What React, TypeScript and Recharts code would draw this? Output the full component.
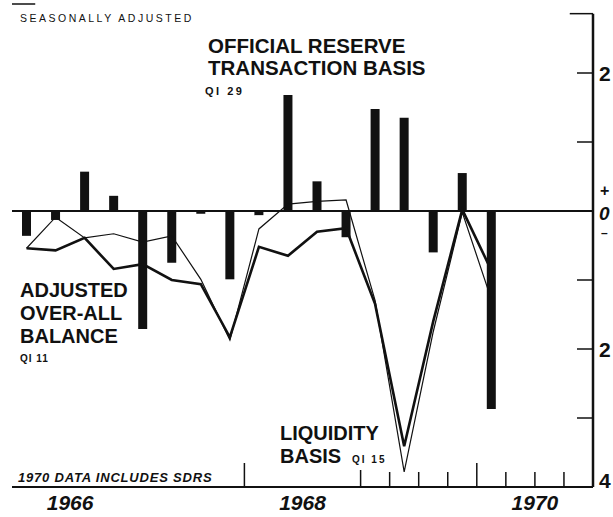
import React from "react";
import { ComposedChart, Bar, Line, XAxis, YAxis, ReferenceLine } from "recharts";

// quarterly, billions of dollars, seasonally adjusted
const quarters = [
  "1966 Q1", "1966 Q2", "1966 Q3", "1966 Q4",
  "1967 Q1", "1967 Q2", "1967 Q3", "1967 Q4",
  "1968 Q1", "1968 Q2", "1968 Q3", "1968 Q4",
  "1969 Q1", "1969 Q2", "1969 Q3", "1969 Q4",
  "1970 Q1",
];
const reserveBasis = [
  -0.36, -0.13, 0.57, 0.22, -1.71, -0.75, -0.04, -0.99,
  -0.06, 1.68, 0.43, -0.38, 1.48, 1.35, -0.6, 0.55, -2.87,
];
const overallBalance = [
  -0.54, -0.57, -0.39, -0.84, -0.77, -1.0, -1.06, -1.83,
  -0.52, -0.65, -0.3, -0.25, -1.35, -3.41, -1.6, 0.02, -0.86,
];
const liquidityBasis = [
  -0.54, -0.09, -0.39, -0.33, -0.45, -0.36, -0.99, -1.87,
  -0.26, 0.1, 0.14, 0.16, -1.3, -3.78, -1.75, -0.02, -1.28,
];

const yearLabels = ["1966", "1968", "1970"];
// quarter boundaries (counted from 1966 Q1) that carry a tick mark
const quarterTicks = [8, 12, 13, 14, 15, 16, 17, 18, 19];
const yTicks = [-4, -3, -2, -1, 0, 1, 2];
const yTickLabels = ["4", "", "2", "", "0", "", "2"];

const data = quarters.map((q, i) => ({
  quarter: q,
  pos: i + 0.5,
  reserve: reserveBasis[i],
  overall: overallBalance[i],
  liquidity: liquidityBasis[i],
}));

const yearPos = (y: string) => (Number(y) - 1966) * 4 + 2;
const xTicks = Array.from(
  new Set([...yearLabels.map(yearPos), ...quarterTicks])
).sort((a, b) => a - b);

const font = "'Liberation Sans', Arial, sans-serif";
const ink = "#111";

const BottomTick = (props: any) => {
  const { x, y, payload } = props;
  const v = payload.value as number;
  const label = yearLabels.find((yr) => yearPos(yr) === v);
  const len = v === 8 || v === 16 ? 24 : v === 12 ? 17 : 15;
  return (
    <g>
      {quarterTicks.includes(v) && (
        <line x1={x} x2={x} y1={y} y2={y - len} stroke={ink} strokeWidth={1.5} />
      )}
      {label && (
        <text
          x={x}
          y={y + 23}
          textAnchor="middle"
          fontFamily={font}
          fontWeight="bold"
          fontStyle="italic"
          fontSize={21}
          fill={ink}
        >
          {label}
        </text>
      )}
    </g>
  );
};

const RightTick = (props: any) => {
  const { x, y, payload } = props;
  const label = yTickLabels[yTicks.indexOf(payload.value)];
  const t = { fontFamily: font, fontWeight: "bold" as const, fill: ink };
  return (
    <g>
      <line x1={x - 16} x2={x} y1={y} y2={y} stroke={ink} strokeWidth={1.5} />
      {label === "0" ? (
        <>
          <text x={x + 7} y={y - 15} fontSize={16} {...t}>+</text>
          <text x={x + 6} y={y + 9} fontSize={19} fontStyle="italic" {...t}>0</text>
          <text x={x + 8} y={y + 26} fontSize={12} {...t}>–</text>
        </>
      ) : label ? (
        <text x={x + 6} y={payload.value === -4 ? y + 1 : y + 8} fontSize={21} {...t}>
          {label}
        </text>
      ) : null}
    </g>
  );
};

const heading = { fontFamily: font, fontWeight: "bold" as const, fill: ink };

export default function App() {
  return (
    <div style={{ position: "absolute", left: 0, top: 0, width: 613, height: 517, background: "#fff" }}>
      <ComposedChart
        width={613}
        height={517}
        data={data}
        margin={{ top: 4, right: 0, bottom: 0, left: 12 }}
      >
        <XAxis
          dataKey="pos"
          type="number"
          domain={[0, 20]}
          ticks={xTicks}
          interval={0}
          height={30}
          tickSize={0}
          tickMargin={0}
          tick={<BottomTick />}
          axisLine={{ stroke: ink, strokeWidth: 2 }}
          allowDataOverflow
        />
        <YAxis
          yAxisId="left"
          domain={[-4, 3]}
          width={0}
          tick={false}
          tickLine={false}
          axisLine={{ stroke: ink, strokeWidth: 2 }}
          allowDataOverflow
        />
        <YAxis
          yAxisId="right"
          orientation="right"
          domain={[-4, 3]}
          ticks={yTicks}
          interval={0}
          width={20}
          tickSize={0}
          tickMargin={0}
          tick={<RightTick />}
          axisLine={false}
          allowDataOverflow
        />
        <ReferenceLine
          yAxisId="left"
          segment={[{ x: 20, y: 2.86 }, { x: 20, y: -4 }]}
          stroke={ink}
          strokeWidth={2.5}
        />
        <ReferenceLine
          yAxisId="left"
          segment={[{ x: 19.2, y: 2.86 }, { x: 20, y: 2.86 }]}
          stroke={ink}
          strokeWidth={1.5}
        />
        <ReferenceLine
          yAxisId="left"
          segment={[{ x: 0, y: 3 }, { x: 0.8, y: 3 }]}
          stroke={ink}
          strokeWidth={1.5}
        />
        <ReferenceLine yAxisId="left" y={0} stroke={ink} strokeWidth={1.8} />
        <Bar
          yAxisId="left"
          dataKey="reserve"
          fill={ink}
          barSize={9}
          isAnimationActive={false}
        />
        <Line
          yAxisId="left"
          dataKey="liquidity"
          type="linear"
          stroke={ink}
          strokeWidth={1.2}
          dot={false}
          isAnimationActive={false}
        />
        <Line
          yAxisId="left"
          dataKey="overall"
          type="linear"
          stroke={ink}
          strokeWidth={2.6}
          dot={false}
          isAnimationActive={false}
        />
      </ComposedChart>
      <svg
        width={613}
        height={517}
        style={{ position: "absolute", left: 0, top: 0, pointerEvents: "none" }}
      >
        <text x={20} y={22} fontFamily={font} fontSize={10.5} letterSpacing={2.5} fill={ink}>
          SEASONALLY ADJUSTED
        </text>
        <text x={208} y={53} fontSize={20.5} {...heading}>OFFICIAL RESERVE</text>
        <text x={208} y={75} fontSize={20.5} {...heading}>TRANSACTION BASIS</text>
        <text x={205} y={95} fontSize={11} letterSpacing={2.5} {...heading}>QI 29</text>

        <text x={20} y={297} fontSize={20} {...heading}>ADJUSTED</text>
        <text x={20} y={320} fontSize={20} {...heading}>OVER-ALL</text>
        <text x={20} y={343} fontSize={20} {...heading}>BALANCE</text>
        <text x={20} y={362} fontSize={10} letterSpacing={1} {...heading}>QI 11</text>

        <text x={280} y={440} fontSize={20} {...heading}>LIQUIDITY</text>
        <text x={280} y={463} fontSize={20} {...heading}>BASIS</text>
        <text x={352} y={463} fontSize={10} letterSpacing={2} {...heading}>QI 15</text>

        <text
          x={18}
          y={482}
          fontSize={13}
          fontStyle="italic"
          letterSpacing={0.8}
          {...heading}
        >
          1970 DATA INCLUDES SDRS
        </text>
      </svg>
    </div>
  );
}
